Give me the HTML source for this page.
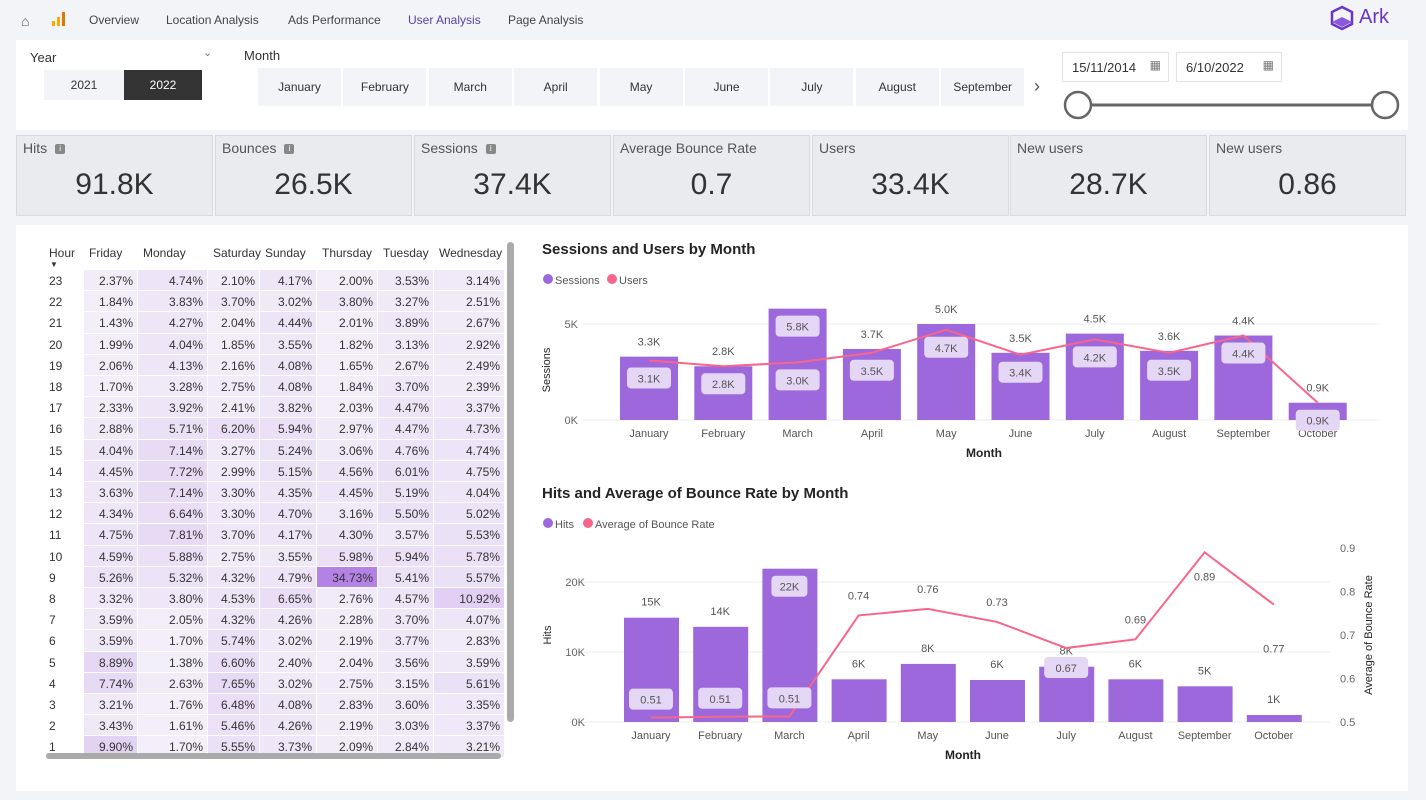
<!DOCTYPE html>
<html><head><meta charset="utf-8">
<style>
*{box-sizing:border-box;margin:0;padding:0}
body{width:1426px;height:800px;background:#f3f4f7;font-family:"Liberation Sans",sans-serif;color:#333;position:relative;overflow:hidden}
.abs{position:absolute}
.nav{font-size:12px;color:#444;top:13px}
.mbtn{position:absolute;top:68px;height:38px;width:83px;background:#f3f4f8;font-size:12px;display:flex;align-items:center;justify-content:center;color:#333}
.kpi{position:absolute;top:135px;height:81px;width:197px;background:#e9ebee;border:1px solid #d8dadd}
.kpi .t{position:absolute;left:6px;top:4px;font-size:14px;color:#555}
.kpi .v{position:absolute;left:0;right:0;top:32px;text-align:center;font-size:30px;color:#333}
.info{display:inline-block;width:10px;height:10px;background:#888;border-radius:2px;margin-left:8px;vertical-align:middle;color:#fff;font-size:8px;text-align:center;line-height:10px}
</style></head><body>
<div class="abs" style="left:21px;top:13px;font-size:14px;color:#555">&#8962;</div>
<svg class="abs" style="left:51px;top:11px" width="16" height="16"><rect x="1" y="10" width="3" height="5" fill="#f9ab00"/><rect x="6" y="6" width="3" height="9" fill="#f9ab00"/><rect x="11" y="1" width="3" height="14" fill="#e37400"/></svg>
<div class="abs nav" style="left:89px">Overview</div>
<div class="abs nav" style="left:166px">Location Analysis</div>
<div class="abs nav" style="left:288px">Ads Performance</div>
<div class="abs nav" style="left:408px;color:#5b3fa8">User Analysis</div>
<div class="abs nav" style="left:508px">Page Analysis</div>
<div class="abs" style="left:1330px;top:5px;width:70px;height:26px">
<svg width="24" height="26" style="position:absolute;left:0;top:0"><polygon points="12,2 22,7 22,19 12,24 2,19 2,7" fill="none" stroke="#6a35c9" stroke-width="2.5"/><polygon points="12,12 22,17 12,22 2,17" fill="#8a5ad9"/></svg>
<span style="position:absolute;left:29px;top:1px;font-size:20px;color:#6a35c9">Ark</span></div>

<div class="abs" style="left:16px;top:40px;width:1392px;height:90px;background:#fff"></div>
<div class="abs" style="left:30px;top:50px;font-size:13px">Year</div>
<div class="abs" style="left:203px;top:46px;font-size:11px;color:#777">&#8964;</div>
<div class="abs" style="left:44px;top:70px;width:80px;height:30px;background:#f3f4f8;font-size:12px;display:flex;align-items:center;justify-content:center">2021</div>
<div class="abs" style="left:124px;top:70px;width:78px;height:30px;background:#333;color:#fff;font-size:12px;display:flex;align-items:center;justify-content:center">2022</div>
<div class="abs" style="left:244px;top:48px;font-size:13px">Month</div>
<div id="months"></div>
<div class="abs" style="left:1034px;top:76px;font-size:18px;color:#555">&#8250;</div>
<div class="abs" style="left:1062px;top:52px;width:107px;height:30px;border:1px solid #e4e4e4;font-size:13px;padding:7px 9px">15/11/2014<span style="position:absolute;right:7px;top:5px;font-size:12px;color:#777">&#9638;</span></div>
<div class="abs" style="left:1176px;top:52px;width:106px;height:30px;border:1px solid #e4e4e4;font-size:13px;padding:7px 9px">6/10/2022<span style="position:absolute;right:7px;top:5px;font-size:12px;color:#777">&#9638;</span></div>
<svg class="abs" style="left:1060px;top:88px" width="345" height="34"><line x1="18" y1="17" x2="325" y2="17" stroke="#666" stroke-width="3"/><circle cx="18" cy="17" r="13" fill="#fff" stroke="#666" stroke-width="2.5"/><circle cx="325" cy="17" r="13" fill="#fff" stroke="#666" stroke-width="2.5"/></svg>

<div class="kpi" style="left:16px"><div class="t">Hits<span class="info">i</span></div><div class="v">91.8K</div></div>
<div class="kpi" style="left:215px"><div class="t">Bounces<span class="info">i</span></div><div class="v">26.5K</div></div>
<div class="kpi" style="left:414px"><div class="t">Sessions<span class="info">i</span></div><div class="v">37.4K</div></div>
<div class="kpi" style="left:613px"><div class="t">Average Bounce Rate</div><div class="v">0.7</div></div>
<div class="kpi" style="left:812px"><div class="t">Users</div><div class="v">33.4K</div></div>
<div class="kpi" style="left:1010px"><div class="t">New users</div><div class="v">28.7K</div></div>
<div class="kpi" style="left:1209px"><div class="t">New users</div><div class="v">0.86</div></div>

<div class="abs" style="left:16px;top:225px;width:1392px;height:566px;background:#fff"></div>
<div class="abs" style="left:0;top:0" id="heat"></div>
<div class="abs" style="left:507px;top:242px;width:7px;height:480px;background:#aaa;border-radius:4px"></div>
<div class="abs" style="left:46px;top:753px;width:455px;height:6px;background:#aaa;border-radius:3px"></div>

<svg class="abs" id="c1" style="left:0;top:0" width="1426" height="800"></svg>

<script>
// ---------- Month slicer ----------
const monthNames=["January","February","March","April","May","June","July","August","September"];
const mc=document.getElementById('months');
monthNames.forEach((m,i)=>{const d=document.createElement('div');d.className='mbtn';d.style.left=(258+i*85.4)+'px';d.textContent=m;


mc.appendChild(d);});

// ---------- Heatmap ----------
const dayCols=["Friday","Monday","Saturday","Sunday","Thursday","Tuesday","Wednesday"];
const hours=[23,22,21,20,19,18,17,16,15,14,13,12,11,10,9,8,7,6,5,4,3,2,1];
const pctRows=[
[2.37,4.74,2.10,4.17,2.00,3.53,3.14],[1.84,3.83,3.70,3.02,3.80,3.27,2.51],[1.43,4.27,2.04,4.44,2.01,3.89,2.67],
[1.99,4.04,1.85,3.55,1.82,3.13,2.92],[2.06,4.13,2.16,4.08,1.65,2.67,2.49],[1.70,3.28,2.75,4.08,1.84,3.70,2.39],
[2.33,3.92,2.41,3.82,2.03,4.47,3.37],[2.88,5.71,6.20,5.94,2.97,4.47,4.73],[4.04,7.14,3.27,5.24,3.06,4.76,4.74],
[4.45,7.72,2.99,5.15,4.56,6.01,4.75],[3.63,7.14,3.30,4.35,4.45,5.19,4.04],[4.34,6.64,3.30,4.70,3.16,5.50,5.02],
[4.75,7.81,3.70,4.17,4.30,3.57,5.53],[4.59,5.88,2.75,3.55,5.98,5.94,5.78],[5.26,5.32,4.32,4.79,34.73,5.41,5.57],
[3.32,3.80,4.53,6.65,2.76,4.57,10.92],[3.59,2.05,4.32,4.26,2.28,3.70,4.07],[3.59,1.70,5.74,3.02,2.19,3.77,2.83],
[8.89,1.38,6.60,2.40,2.04,3.56,3.59],[7.74,2.63,7.65,3.02,2.75,3.15,5.61],[3.21,1.76,6.48,4.08,2.83,3.60,3.35],
[3.43,1.61,5.46,4.26,2.19,3.03,3.37],[9.90,1.70,5.55,3.73,2.09,2.84,3.21]];
(function(){
const h=document.getElementById('heat');
const colX=[84,138,208,260,317,378,434,505];
let html='<div style="position:absolute;left:49px;top:246px;font-size:12px">Hour</div><div style="position:absolute;left:50px;top:260px;font-size:8px">&#9660;</div>';
dayCols.forEach((d,i)=>{html+=`<div style="position:absolute;left:${colX[i]+5}px;top:246px;font-size:12px">${d}</div>`;});
let mx=0;pctRows.forEach(r=>r.forEach(v=>mx=Math.max(mx,v)));
const c0=[244,240,249],c1=[180,130,228];
pctRows.forEach((r,ri)=>{const y=270+ri*21.2;
html+=`<div style="position:absolute;left:49px;top:${y+4}px;font-size:12px">${hours[ri]}</div>`;
r.forEach((v,ci)=>{const t=Math.min(1,(v-1)/(mx-1));const c=c0.map((a,k)=>Math.round(a+(c1[k]-a)*t));
html+=`<div style="position:absolute;left:${colX[ci]}px;top:${y}px;width:${colX[ci+1]-colX[ci]-1}px;height:20.2px;background:rgb(${c});font-size:12px;text-align:right;padding:4px 4px 0 0;overflow:hidden">${v.toFixed(2)}%</div>`;});});
h.innerHTML=html;})();

// ---------- Charts ----------
const months=["January","February","March","April","May","June","July","August","September","October"];
const sessions=[3.3,2.8,5.8,3.7,5.0,3.5,4.5,3.6,4.4,0.9];
const users=[3.1,2.8,3.0,3.5,4.7,3.4,4.2,3.5,4.4,0.9];
const sessTicks=[0,5];
const hits=[14.9,13.6,21.9,6.1,8.3,6.0,7.9,6.1,5.1,1.0];
const bounce=[0.51,0.512,0.513,0.745,0.76,0.73,0.67,0.69,0.89,0.77];
const hitsTicks=[0,10,20];
const bounceTicks=[0.5,0.6,0.7,0.8,0.9];

const svg=document.getElementById('c1');const NS='http://www.w3.org/2000/svg';
function el(tag,attrs,txt){const e=document.createElementNS(NS,tag);for(const k in attrs)e.setAttribute(k,attrs[k]);if(txt!==undefined)e.textContent=txt;svg.appendChild(e);return e;}
const PUR='#9c68dc',PINK='#f7668a',BOX='#e4d6f5';
function fk(v){return (Math.round(v*10)/10).toFixed(1)+'K';}

// Chart 1
el('text',{x:542,y:254,'font-size':15,'font-weight':'bold',fill:'#252423'},'Sessions and Users by Month');
el('circle',{cx:548,cy:279,r:5,fill:PUR});el('text',{x:555,y:284,'font-size':11,fill:'#555'},'Sessions');
el('circle',{cx:612,cy:279,r:5,fill:PINK});el('text',{x:619,y:284,'font-size':11,fill:'#555'},'Users');
const x1=i=>649+i*74.3, y1=v=>420-v*19.2;
sessTicks.forEach(t=>{el('line',{x1:583,x2:1380,y1:y1(t),y2:y1(t),stroke:'#eeeeee'});el('text',{x:578,y:y1(t)+4,'font-size':11,'text-anchor':'end',fill:'#666'},t+'K');});
el('text',{transform:'translate(550,370) rotate(-90)','font-size':11,'text-anchor':'middle',fill:'#252423'},'Sessions');
el('text',{x:984,y:457,'font-size':12,'font-weight':'bold','text-anchor':'middle',fill:'#252423'},'Month');
sessions.forEach((v,i)=>{const b=el('rect',{x:x1(i)-29,y:y1(v),width:58,height:y1(0)-y1(v),fill:PUR});


el('text',{x:x1(i),y:437,'font-size':11,'text-anchor':'middle',fill:'#555'},months[i]);
if(v>5.5){el('rect',{x:x1(i)-22,y:y1(v)+7,width:44,height:21,rx:4,fill:BOX});el('text',{x:x1(i),y:y1(v)+22,'font-size':11,'text-anchor':'middle',fill:'#555'},fk(v));}
else el('text',{x:x1(i),y:y1(v)-11,'font-size':11,'text-anchor':'middle',fill:'#555'},fk(v));});
const pl=el('polyline',{points:users.map((v,i)=>x1(i)+','+y1(v)).join(' '),fill:'none',stroke:PINK,'stroke-width':2});

users.forEach((v,i)=>{const cy=y1(v)+18;el('rect',{x:x1(i)-22,y:cy-11,width:44,height:21,rx:4,fill:BOX});el('text',{x:x1(i),y:cy+4,'font-size':11,'text-anchor':'middle',fill:'#555'},fk(v));});

// Chart 2
el('text',{x:542,y:498,'font-size':15,'font-weight':'bold',fill:'#252423'},'Hits and Average of Bounce Rate by Month');
el('circle',{cx:548,cy:523,r:5,fill:PUR});el('text',{x:555,y:528,'font-size':11,fill:'#555'},'Hits');
el('circle',{cx:588,cy:523,r:5,fill:PINK});el('text',{x:595,y:528,'font-size':11,fill:'#555'},'Average of Bounce Rate');
const x2=i=>651+i*69.2, y2=v=>722-v*7, yr=v=>722-(v-0.5)*435;
hitsTicks.forEach(t=>{el('line',{x1:570,x2:1330,y1:y2(t),y2:y2(t),stroke:'#eeeeee'});el('text',{x:585,y:y2(t)+4,'font-size':11,'text-anchor':'end',fill:'#666'},t+'K');});
bounceTicks.forEach(t=>{el('text',{x:1340,y:yr(t)+4,'font-size':11,fill:'#666'},t.toFixed(1));});
el('text',{transform:'translate(551,635) rotate(-90)','font-size':11,'text-anchor':'middle',fill:'#252423'},'Hits');
el('text',{transform:'translate(1372,635) rotate(-90)','font-size':11,'text-anchor':'middle',fill:'#252423'},'Average of Bounce Rate');
el('text',{x:963,y:759,'font-size':12,'font-weight':'bold','text-anchor':'middle',fill:'#252423'},'Month');
hits.forEach((v,i)=>{const b=el('rect',{x:x2(i)-27,y:y2(v),width:55,height:y2(0)-y2(v),fill:PUR});


el('text',{x:x2(i),y:739,'font-size':11,'text-anchor':'middle',fill:'#555'},months[i]);
const inside=v>20;
if(inside)el('rect',{x:x2(i)-18,y:y2(v)+7,width:36,height:21,rx:4,fill:BOX});
el('text',{x:x2(i),y:inside?y2(v)+22:y2(v)-12,'font-size':11,'text-anchor':'middle',fill:'#555'},Math.round(v)+'K');});
const pl2=el('polyline',{points:bounce.map((v,i)=>x2(i)+','+yr(v)).join(' '),fill:'none',stroke:PINK,'stroke-width':2});

bounce.forEach((v,i)=>{const lo=v<0.6;let cy;
if(lo)cy=yr(v)-18;else if(i==6)cy=yr(v)+20;else if(i==8)cy=yr(v)+24;else if(i==9)cy=yr(v)+44;else cy=yr(v)-20;
if(lo||i==6)el('rect',{x:x2(i)-22,y:cy-11,width:44,height:21,rx:4,fill:BOX});
el('text',{x:x2(i),y:cy+4,'font-size':11,'text-anchor':'middle',fill:'#555'},v.toFixed(2));});
</script>
</body></html>
